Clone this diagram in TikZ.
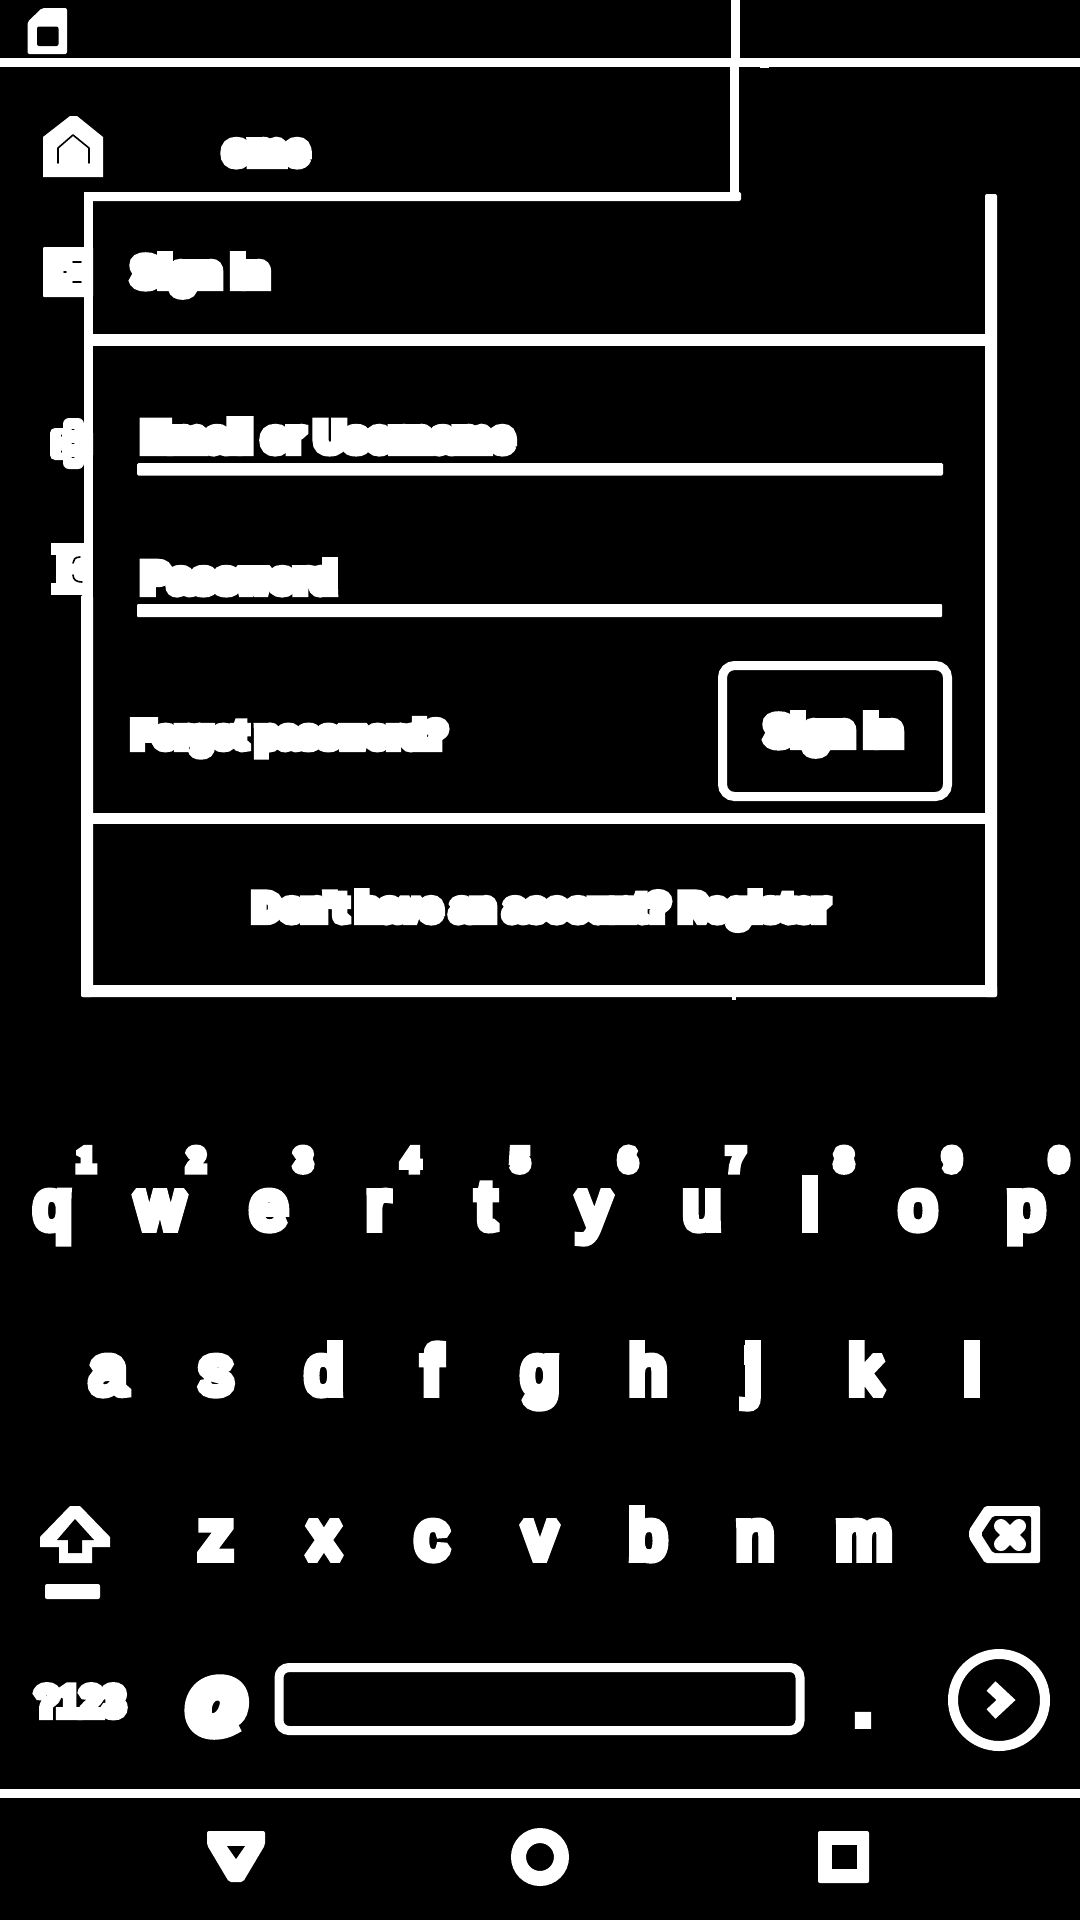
\documentclass[tikz,border=0pt]{standalone}
\usepackage{fontspec}
\newfontfamily\fkey[FakeBold=15]{Liberation Sans}
\newfontfamily\fdigit[FakeBold=30]{Liberation Sans}
\newfontfamily\ftitle[FakeBold=25]{Liberation Sans Bold}
\newfontfamily\fbody[FakeBold=28]{Liberation Sans Bold}
\newfontfamily\fsym[FakeBold=25]{Liberation Sans}
\newfontfamily\fatk[FakeBold=16]{Liberation Sans}
\tikzset{
  ink/.style={fill=white,draw=none},
  hole/.style={fill=black,draw=none},
  blackmark/.style={draw=black,line width=1.6pt,line cap=round},
  outline/.style={draw=white,fill=none},
  lbl/.style={text=white,inner sep=0pt,outer sep=0pt},
  letter/.style={lbl,anchor=base,font=\fontsize{66}{66}\fkey},
  digit/.style={lbl,anchor=base,font=\fontsize{30}{30}\fdigit},
  title/.style={lbl,anchor=base west,font=\fontsize{41}{41}\ftitle},
  body/.style={lbl,anchor=base west,font=\fontsize{36}{36}\fbody}
}
\begin{document}
\begin{tikzpicture}[x=1pt,y=-1pt,line join=miter,miter limit=1.5]
\useasboundingbox (0,0) rectangle (1080,1920);
\fill[black] (0,0) rectangle (1080,1920);
% status icon
\path[ink,rounded corners=2pt] (27.5,22) -- (42,8) -- (67,8) -- (67,54) -- (27.5,54) -- cycle;
\path[hole,rounded corners=2pt] (37,26.5) rectangle (58.5,46);
% frame lines
\path[ink] (0,58) rectangle (1080,66.5);
\path[ink] (760,66) rectangle (769,68);
\path[ink] (731,0) rectangle (740,60);
\path[ink] (730,66) rectangle (739,193);
\path[ink,rounded corners=2pt] (84,192) rectangle (741,201);
\path[ink] (84,192) rectangle (93,600);
\path[ink,rounded corners=2pt] (81,595) rectangle (93,997);
\path[ink,rounded corners=2pt] (985,194) rectangle (997,997);
\path[ink,rounded corners=2pt] (81,985) rectangle (997,997);
\path[ink] (732,997) rectangle (736,1000);
\path[ink] (84,334) rectangle (997,346);
\path[ink] (84,813) rectangle (997,824);
\path[ink,rounded corners=1.5pt] (137,463) rectangle (943,475.5);
\path[ink,rounded corners=1pt] (137,604) rectangle (942,617);
% left icons
\path[ink] (43,137) -- (70,116) -- (77,116) -- (103,137) -- (103,177) -- (43,177) -- cycle;
\draw[blackmark,line join=round] (58,163) -- (58,148) -- (73,135) -- (89,148) -- (89,163);
\path[ink,rounded corners=1pt] (43,247) rectangle (93,297);
\draw[blackmark] (73,262) -- (81,262) (73,282) -- (81,282) (64,272) -- (66,272);
\path[ink,rounded corners=5pt] (50,428) rectangle (93,460);
\path[ink,rounded corners=6pt] (63,418) rectangle (84,469);
\draw[blackmark,line width=1pt] (72,429) -- (74,429) (72,443) -- (74,443) (72,457) -- (74,457) (61,435) -- (61,436) (61,451) -- (61,452);
\path[ink] (51,543) rectangle (93,555);
\path[ink] (51,583) rectangle (93,595);
\path[ink] (56,550) rectangle (93,590);
\draw[blackmark] (80,557) .. controls (75,557) and (73,560) .. (73,563);
\draw[blackmark] (73,575) .. controls (73,580) and (77,582) .. (82,582);
% form text
\node[lbl,anchor=base,font=\fontsize{41}{41}\ftitle] (brand) at (266,164) {ome};
\node[title] (heading) at (132,286) {Sign in};
\node[title] (email) at (142,451) {Email or Username};
\node[title] (password) at (142,592) {Password};
\node[body] (forgot) at (132.5,747) {Forgot password?};
\path[outline,line width=9pt,rounded corners=12pt] (722.5,665.5) rectangle (947.5,796.5);
\node[title] (signin) at (765,745) {Sign in};
\node[body,font=\fontsize{37}{37}\fbody] (register) at (253.5,920) {Don't have an account?\hspace{-3pt} Register};
% keyboard
\foreach \c/\x/\d/\dx in {q/52.6/1/86,w/160/2/196,e/269/3/303,r/378/4/411,t/486/5/520,y/594/6/628,u/702/7/736,i/810/8/844,o/918/9/952,p/1026/0/1059}{
  \node[letter] (key\c) at (\x,1228) {\c};
  \node[digit] (num\d) at (\dx,1170) {\d};
}
\foreach \c/\x in {a/108,s/216,d/324,f/432,g/540,h/648,j/753,k/866,l/972}{
  \node[letter] (key\c) at (\x,1393) {\c};
}
\foreach \c/\x in {z/216,x/324,c/432,v/540,b/648,n/755,m/864}{
  \node[letter] (key\c) at (\x,1558) {\c};
}
% dot gaps of i and j are closed in the reference
\path[ink] (802,1180) rectangle (818,1200);
\path[ink] (744,1345) rectangle (760,1365);
% shift
\path[ink] (70,1506) -- (80,1506) -- (110,1537) -- (110,1547) -- (92,1547) -- (92,1563) -- (59,1563) -- (59,1547) -- (40,1547) -- (40,1537) -- cycle;
\path[hole] (75,1519) -- (94,1540) -- (82,1540) -- (82,1553) -- (68,1553) -- (68,1540) -- (57,1540) -- cycle;
\path[ink,rounded corners=2pt] (45,1584) rectangle (100,1599);
% backspace
\path[ink,rounded corners=2pt] (985,1506) -- (1040,1506) -- (1040,1563) -- (985,1563) -- (969,1538) -- (969,1530) -- cycle;
\path[hole,rounded corners=2pt] (981,1534) -- (993,1516) -- (1031,1516) -- (1031,1553) -- (993,1553) -- cycle;
\draw[white,line width=14pt,line cap=round] (1001,1526) -- (1019,1544) (1019,1526) -- (1001,1544);
% bottom row
\node[lbl,anchor=base,font=\fontsize{40}{40}\fsym] (sym) at (80,1715) {?123};
\node[lbl,font=\fontsize{64}{64}\fatk] (atkey) at (217,1707) {@};
\path[outline,line width=9pt,rounded corners=10pt] (279,1667.5) rectangle (800,1730.5);
\node[letter] (dot) at (863,1724) {.};
\path[outline,line width=10pt] (999,1700) circle[radius=46pt];
\draw[white,line width=13pt] (991,1686) -- (1006,1700) -- (991,1714);
% navigation bar
\path[ink] (0,1789) rectangle (1080,1798);
\path[ink,rounded corners=2pt] (207,1831) -- (265,1831) -- (265,1845) -- (243,1882) -- (229,1882) -- (207,1845) -- cycle;
\path[hole] (227,1846) -- (245,1846) -- (236,1859) -- cycle;
\path[outline,line width=15pt] (540,1857) circle[radius=21.5pt];
\path[ink,rounded corners=2pt] (818,1831) rectangle (869,1883);
\path[hole] (832,1845) rectangle (857,1869);
\end{tikzpicture}
\end{document}
